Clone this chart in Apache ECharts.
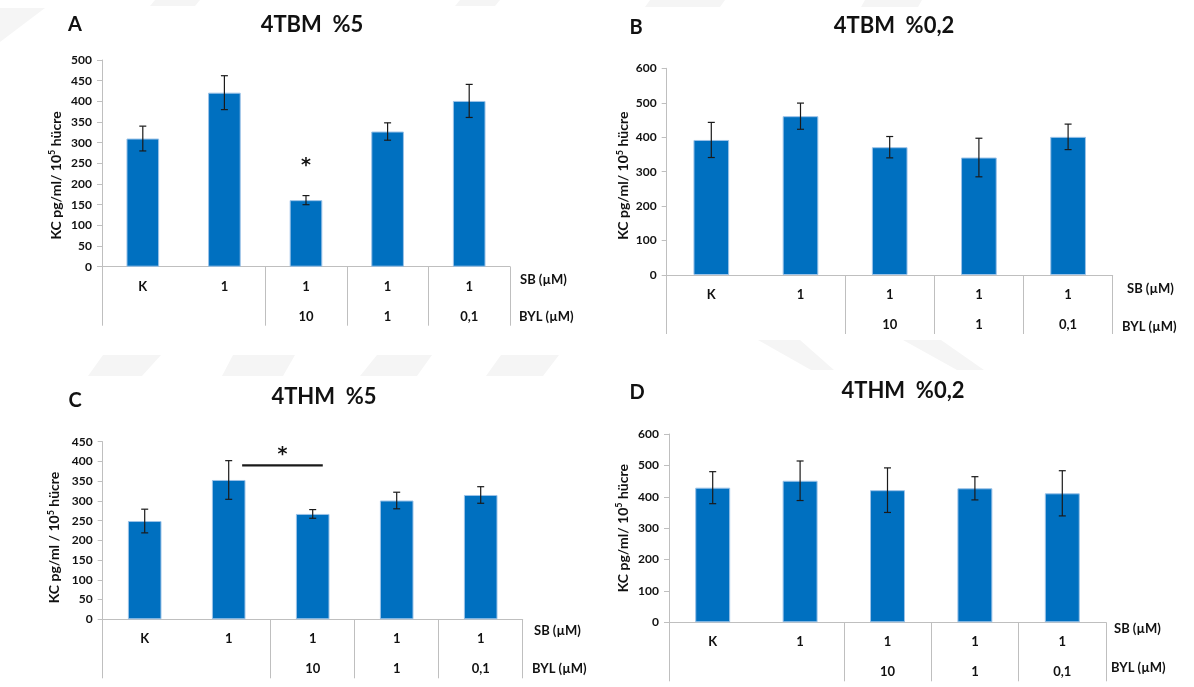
<!DOCTYPE html>
<html><head><meta charset="utf-8">
<script src="https://cdn.jsdelivr.net/npm/echarts@6/dist/echarts.min.js"></script>
<style>html,body{margin:0;padding:0;background:#fff}#c{width:1194px;height:687px}</style>
</head><body><div id="c"></div>
<script>
// ---------- data ----------
const sbLabels = ['K', '1', '1', '1', '1'];
const bylLabels = ['', '', '10', '1', '0,1'];
const meansA = [310, 421, 161, 327, 401];
const errA = [30, 41, 11, 21, 40];
const meansB = [392, 461, 371, 341, 401];
const errB = [51, 38, 31, 56, 37];
const meansC = [249, 353, 267, 301, 315];
const errC = [30, 49, 11, 21, 21];
const meansD = [429, 451, 421, 427, 411];
const errD = [51, 63, 71, 37, 72];
const titles = ['4TBM  %5', '4TBM  %0,2', '4THM  %5', '4THM  %0,2'];
const letters = ['A', 'B', 'C', 'D'];
const yMax = [500, 600, 450, 600];
const yStep = [50, 100, 50, 100];
const yNames = ['KC pg/ml/ 10{s|5} hücre', 'KC pg/ml/ 10{s|5} hücre', 'KC pg/ml / 10{s|5} hücre', 'KC pg/ml/ 10{s|5} hücre'];
const rowNames = ['SB (µM)', 'BYL (µM)'];
const starA = {cat: 2, value: 250};
const sigC = {from: 1, to: 2, value: 390, starValue: 425};

const means = [meansA, meansB, meansC, meansD];
const errs = [errA, errB, errC, errD];

// ---------- layout ----------
const FONT = 'Lato, "Open Sans", sans-serif';
const GRAY = '#bfbfbf';
const layout = [
  {left: 102, top: 60, width: 408, height: 206.7, nameGap: 38, namePad: [0, 24, 0, 0], title: [312, 25], letter: [75, 25], sb: [520, 280], byl: [519, 317]},
  {left: 666.7, top: 68.3, width: 446, height: 206.7, nameGap: 35, namePad: [0, 8, 0, 0], title: [894, 26], letter: [636, 28], sb: [1127, 289], byl: [1122, 326.5]},
  {left: 102.7, top: 441.7, width: 420, height: 177.6, nameGap: 40, namePad: [0, 14, 0, 0], title: [324, 397], letter: [75, 401], sb: [534, 631], byl: [532, 669]},
  {left: 669, top: 434, width: 437, height: 188.3, nameGap: 38, namePad: [0, 0, 0, 0], title: [903, 391], letter: [637, 393], sb: [1114, 629], byl: [1111, 668]}
];

const chart = echarts.init(document.getElementById('c'));

const grid = [], xAxis = [], yAxis = [], series = [];
layout.forEach((L, p) => {
  grid.push({left: L.left, top: L.top, width: L.width, height: L.height, containLabel: false});
  xAxis.push({
    type: 'category', gridIndex: p, data: sbLabels, position: 'bottom',
    axisLine: {show: true, lineStyle: {color: GRAY, width: 1}},
    axisTick: {show: true, interval: (i) => i !== 1, length: 59, lineStyle: {color: GRAY, width: 1}},
    axisLabel: {interval: 0, margin: 13, fontSize: 13, lineHeight: 14, fontWeight: 'bold', color: '#111', fontFamily: FONT}
  });
  xAxis.push({
    type: 'category', gridIndex: p, data: bylLabels, position: 'bottom', offset: 36,
    axisLine: {show: false}, axisTick: {show: false},
    axisLabel: {interval: 0, margin: 7, fontSize: 13, lineHeight: 14, fontWeight: 'bold', color: '#111', fontFamily: FONT}
  });
  yAxis.push({
    type: 'value', gridIndex: p, min: 0, max: yMax[p], interval: yStep[p],
    name: yNames[p], nameLocation: 'middle', nameGap: L.nameGap,
    nameTextStyle: {fontSize: 14, fontWeight: 'bold', color: '#111', fontFamily: FONT, padding: L.namePad,
      rich: {s: {fontSize: 9, fontWeight: 'bold', color: '#111', fontFamily: FONT, verticalAlign: 'top', lineHeight: 16}}},
    axisLine: {show: true, lineStyle: {color: GRAY, width: 1}},
    axisTick: {show: true, length: 5, lineStyle: {color: GRAY}},
    splitLine: {show: false},
    axisLabel: {margin: 10, fontSize: 12, fontWeight: 'bold', color: '#111', fontFamily: FONT}
  });
  series.push({
    type: 'bar', xAxisIndex: 2 * p, yAxisIndex: p, data: means[p], barWidth: '40%',
    itemStyle: {color: '#0070C0', borderColor: '#9cc3e8', borderWidth: 1}, silent: true
  });
  series.push({
    type: 'custom', xAxisIndex: 2 * p, yAxisIndex: p, z: 5,
    data: means[p].map((m, i) => [i, m, errs[p][i]]),
    encode: {x: 0, y: 1},
    renderItem: function (params, api) {
      const x = api.value(0), m = api.value(1), e = api.value(2);
      const t = api.coord([x, m + e]), b = api.coord([x, m - e]);
      const hw = 3.5;
      const st = {stroke: '#1a1a1a', lineWidth: 1.2};
      return {type: 'group', children: [
        {type: 'line', shape: {x1: t[0], y1: t[1], x2: b[0], y2: b[1]}, style: st},
        {type: 'line', shape: {x1: t[0] - hw, y1: t[1], x2: t[0] + hw, y2: t[1]}, style: st},
        {type: 'line', shape: {x1: b[0] - hw, y1: b[1], x2: b[0] + hw, y2: b[1]}, style: st}
      ]};
    }
  });
});

chart.setOption({animation: false, grid, xAxis, yAxis, series});

// ---------- annotations (positions from library scales) ----------
function txt(x, y, text, size, align, family) {
  return {type: 'text', x: x, y: y, z: 10,
    style: {text: text, font: 'bold ' + size + 'px ' + (family || FONT), fill: '#111',
      align: align || 'center', verticalAlign: 'middle', textAlign: align || 'center', textVerticalAlign: 'middle'}};
}
const gfx = [];
// faint background watermark shapes
const wm = '#f5f5f5';
[[[103,355],[161,355],[142,376],[88,376]], [[233,355],[295,355],[283,376],[222,376]],
 [[377,355],[432,355],[417,376],[360,376]], [[501,355],[559,355],[543,376],[486,376]],
 [[758,340],[800,340],[834,370],[811,370]], [[903,340],[941,340],[984,370],[957,370]],
 [[155,0],[200,0],[195,6],[150,6]], [[460,0],[500,0],[495,6],[455,6]],
 [[650,0],[725,0],[720,7],[645,7]], [[865,0],[922,0],[918,7],[861,7]],
 [[0,8],[45,8],[0,42]]].forEach(pts => {
  gfx.push({type: 'polygon', z: -10, shape: {points: pts}, style: {fill: wm}});
});
layout.forEach((L, p) => {
  gfx.push(txt(L.title[0], L.title[1], titles[p], 22));
  gfx.push(txt(L.letter[0], L.letter[1], letters[p], 20));
  gfx.push(txt(L.sb[0], L.sb[1], rowNames[0], 13, 'left'));
  gfx.push(txt(L.byl[0], L.byl[1], rowNames[1], 13, 'left'));
});
const STARF = '"DejaVu Sans", sans-serif';
const sA = chart.convertToPixel({xAxisIndex: 0, yAxisIndex: 0}, [starA.cat, starA.value]);
gfx.push(txt(sA[0], sA[1] + 3, '*', 19, 'center', STARF));
const c1 = chart.convertToPixel({xAxisIndex: 4, yAxisIndex: 2}, [sigC.from, sigC.value]);
const c2 = chart.convertToPixel({xAxisIndex: 4, yAxisIndex: 2}, [sigC.to, sigC.value]);
const band = c2[0] - c1[0];
const lx1 = c1[0] + 0.16 * band, lx2 = c2[0] + 0.12 * band;
gfx.push({type: 'line', z: 10, shape: {x1: lx1, y1: c1[1], x2: lx2, y2: c1[1]}, style: {stroke: '#1a1a1a', lineWidth: 2.2}});
const cs = chart.convertToPixel({xAxisIndex: 4, yAxisIndex: 2}, [sigC.from, sigC.starValue]);
gfx.push(txt((lx1 + lx2) / 2, cs[1] + 3, '*', 19, 'center', STARF));
chart.setOption({graphic: gfx});
</script>
</body></html>
